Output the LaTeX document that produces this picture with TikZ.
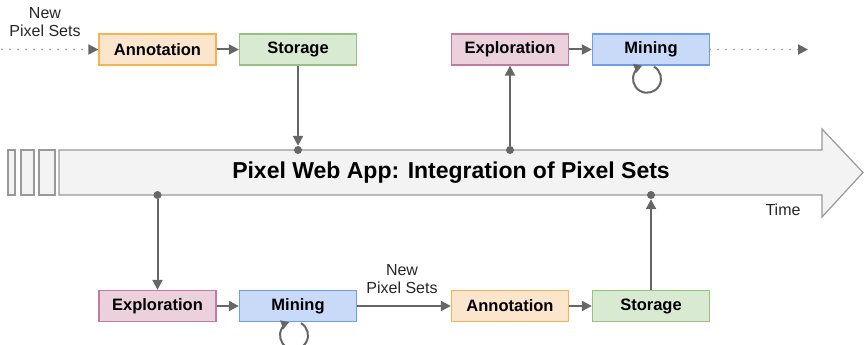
\documentclass[tikz,border=0pt]{standalone}
\usepackage{fontspec}
\setmainfont{Liberation Sans}
\usepackage{xcolor}
\definecolor{pxorange}{RGB}{250,178,80}
\definecolor{pxorangebg}{RGB}{252,229,205}
\definecolor{pxgreen}{RGB}{147,196,125}
\definecolor{pxgreenbg}{RGB}{217,234,211}
\definecolor{pxpink}{RGB}{194,123,160}
\definecolor{pxpinkbg}{RGB}{234,209,220}
\definecolor{pxblue}{RGB}{109,158,235}
\definecolor{pxbluebg}{RGB}{201,218,248}
\definecolor{pxdark}{RGB}{102,102,102}
\definecolor{pxgray}{RGB}{153,153,153}
\definecolor{pxbar}{RGB}{243,243,243}
\usetikzlibrary{arrows.meta, positioning, calc}

\tikzset{
  stagebox/.style={draw=#1, line width=1.3pt, minimum width=117pt, minimum height=31pt,
    inner sep=0pt, font=\fontsize{16.5}{19}\selectfont\bfseries},
  flow/.style={draw=pxdark, line width=2pt, -{Triangle[length=10pt,width=10pt]}},
  feed/.style={draw=pxgray, line width=2pt, line cap=round, dash pattern=on 0pt off 8pt,
    -{Triangle[length=10pt,width=10pt,color=pxdark]}},
  smalltext/.style={font=\fontsize{16}{17.5}\selectfont, align=center, text=black!85},
  hook/.style={circle, fill=pxdark, inner sep=0pt, minimum size=8pt}
}

\begin{document}
\begin{tikzpicture}[x=1pt, y=1pt]
\useasboundingbox (0,0) rectangle (864,-345);

% Timeline arrow
\draw[draw=pxgray, fill=pxbar, line width=1.2pt]
  (59,-150) -- (822,-150) -- (822,-129) -- (863,-172.5) -- (822,-217) -- (822,-195) -- (59,-195) -- cycle;
\draw[draw=pxgray, fill=pxbar, line width=1.2pt] (8,-150) rectangle (15,-195);
\draw[draw=pxgray, fill=pxbar, line width=1.2pt] (21,-150) rectangle (34,-195);
\draw[draw=pxgray, fill=pxbar, line width=1.2pt] (39,-150) rectangle (55,-195);
\node[font=\fontsize{23}{26}\selectfont\bfseries] (title) at (451,-173) {Pixel Web App: Integration of Pixel Sets};
\node[smalltext] (time) at (783,-210) {Time};

% Hook points on the timeline
\node[hook] (d1) at (298,-150) {};
\node[hook] (d2) at (510,-150) {};
\node[hook] (d3) at (157.5,-195) {};
\node[hook] (d4) at (651,-195) {};

% Upper stages
\node[stagebox=pxorange, fill=pxorangebg] (annot1) at (157.5,-49.5) {Annotation};
\node[stagebox=pxgreen, fill=pxgreenbg] (store1) at (298,-49.5) {Storage};
\node[stagebox=pxpink, fill=pxpinkbg] (explore1) at (510,-49.5) {Exploration};
\node[stagebox=pxblue, fill=pxbluebg] (mine1) at (651,-49.5) {Mining};

% Lower stages
\node[stagebox=pxpink, fill=pxpinkbg] (explore2) at (157.5,-306) {Exploration};
\node[stagebox=pxblue, fill=pxbluebg] (mine2) at (298,-306) {Mining};
\node[stagebox=pxorange, fill=pxorangebg] (annot2) at (510,-306) {Annotation};
\node[stagebox=pxgreen, fill=pxgreenbg] (store2) at (651,-306) {Storage};

% Incoming and outgoing sets
\coordinate (in1) at (2,-49.5);
\coordinate (out1) at (808,-49.5);
\node[smalltext] (new1) at (45,-22) {New\\Pixel Sets};
\node[smalltext] (new2) at (402,-279) {New\\Pixel Sets};

% Connections
\draw[feed] (in1) -- (annot1);
\draw[flow] (annot1) -- (store1);
\draw[flow] (store1) -- (d1.north);
\draw[flow] (d2) -- (explore1);
\draw[flow] (explore1) -- (mine1);
\draw[feed] (mine1) -- (out1);

\draw[flow] (d3) -- (explore2);
\draw[flow] (explore2) -- (mine2);
\draw[flow] (mine2) -- (annot2);
\draw[flow] (annot2) -- (store2);
\draw[flow] (store2) -- (d4.south);

% Self loops
\draw[flow, -{Triangle[length=8pt,width=9pt]}] ($(mine1.south)+(3,-1)$) arc[start angle=60, end angle=-250, radius=14];
\draw[flow, -{Triangle[length=8pt,width=9pt]}] ($(mine2.south)+(3,-1)$) arc[start angle=60, end angle=-250, radius=14];

\end{tikzpicture}
\end{document}
